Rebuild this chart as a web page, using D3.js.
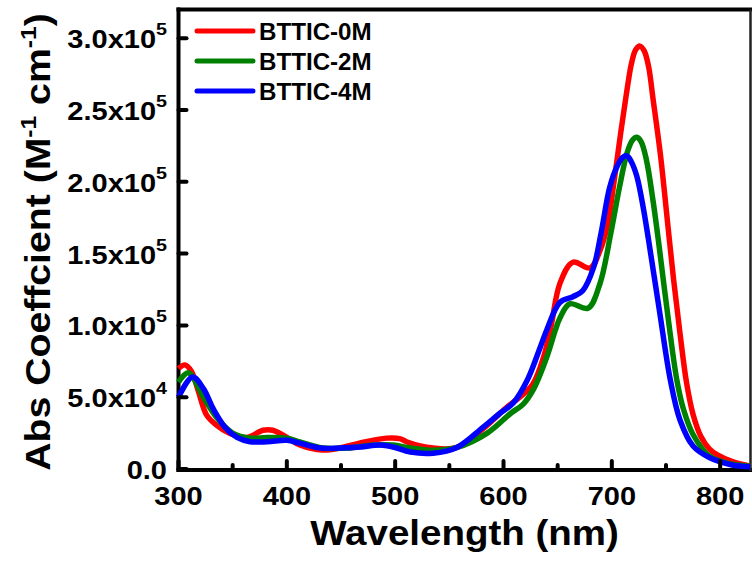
<!DOCTYPE html>
<html><head><meta charset="utf-8">
<script src="https://cdn.jsdelivr.net/npm/d3@7"></script>
<style>
body{margin:0;background:#fff}
svg{display:block}
text{font-family:"Liberation Sans",Arial,sans-serif;font-weight:bold;fill:#000}
</style>
</head><body>
<svg id="chart" width="752" height="561"></svg>
<script>
// ---- data (absorption coefficient in units of 1e4 M^-1 cm^-1) ----
const UNIT = 1e4;
const seriesNames = ["BTTIC-0M", "BTTIC-2M", "BTTIC-4M"];
const seriesColors = ["#ff0000", "#008000", "#0000ff"];

const wl0M  = [300,306,312,318,326,335,347,363,378,387,400,412,433,449,467,492,505,511,535,557,581,603,615,627,637,644,652,664,680,689,696,702,708,714,718,722,726,730,734,738,745,751,757,763,769,775,782,790,797,812,828];
const abs0M = [7.0,7.25,6.8,5.5,3.75,3.06,2.5,2.2,2.7,2.7,2.2,1.67,1.32,1.46,1.8,2.15,2.1,1.88,1.46,1.5,2.8,4.3,5.0,5.9,7.8,10.0,12.9,14.4,14.0,15.2,17.0,20.0,23.3,26.4,28.2,29.2,29.45,29.1,28.0,25.8,21.8,17.5,13.2,9.4,6.0,3.8,2.3,1.4,1.0,0.5,0.2];

const wl2M  = [300,309,323,335,350,366,382,400,412,433,456,480,498,514,535,557,585,607,618,628,640,648,652,661,678,689,699,707,714,719,723,727,732,738,743,752,760,766,775,790,810,828];
const abs2M = [6.05,6.7,5.0,3.6,2.5,2.15,2.2,2.15,1.88,1.46,1.46,1.67,1.67,1.46,1.3,1.5,2.5,3.9,4.5,5.6,7.8,9.7,10.5,11.5,11.2,12.9,16.4,19.6,22.0,22.9,23.1,22.8,21.5,18.7,15.9,10.5,6.2,4.2,2.4,0.9,0.35,0.2];

const wl4M  = [300,313,323,332,343,354,366,382,400,412,431,449,468,486,498,514,535,557,581,597,609,622,634,640,652,664,673,683,690,698,705,710,714,718,723,729,734,744,754,763,775,790,810,828];
const abs4M = [5.0,6.4,5.6,4.2,2.9,2.2,1.9,1.9,2.0,1.8,1.46,1.46,1.53,1.67,1.53,1.18,1.1,1.5,2.9,3.9,4.6,6.2,8.5,9.7,11.6,12.0,12.4,14.0,16.4,19.6,21.1,21.7,21.8,21.4,20.4,18.2,15.9,11.0,6.2,3.4,1.6,0.8,0.3,0.15];

const xTicks = [300, 400, 500, 600, 700, 800];
const xMinorTicks = [350, 450, 550, 650, 750];
const yTicks = [0, 5e4, 1e5, 1.5e5, 2e5, 2.5e5, 3e5];
const yTickMantissa = ["0.0", "5.0x10", "1.0x10", "1.5x10", "2.0x10", "2.5x10", "3.0x10"];
const yTickExponent = ["", "4", "5", "5", "5", "5", "5"];
const xTitle = "Wavelength (nm)";

// ---- layout ----
const svg = d3.select("#chart");
const L = 178.5, R = 750.5, T = 9.5, B = 469;
const x = d3.scaleLinear().domain([300, 828]).range([L, R]);
const y = d3.scaleLinear().domain([0, 3.2e5]).range([B, T]);

const series = [
  {name: seriesNames[0], color: seriesColors[0], wl: wl0M, a: abs0M},
  {name: seriesNames[1], color: seriesColors[1], wl: wl2M, a: abs2M},
  {name: seriesNames[2], color: seriesColors[2], wl: wl4M, a: abs4M}
];

// frame
svg.append("line").attr("x1", L).attr("x2", L).attr("y1", T - 2).attr("y2", B + 3)
  .attr("stroke", "#000").attr("stroke-width", 4);
svg.append("line").attr("x1", L - 2).attr("x2", 752).attr("y1", B + 1).attr("y2", B + 1)
  .attr("stroke", "#000").attr("stroke-width", 4);
svg.append("line").attr("x1", L - 2).attr("x2", 752).attr("y1", T).attr("y2", T)
  .attr("stroke", "#000").attr("stroke-width", 4);
svg.append("line").attr("x1", R).attr("x2", R).attr("y1", T).attr("y2", B + 2)
  .attr("stroke", "#222").attr("stroke-width", 2.5);

// curves
const line = d3.line().x(d => x(d[0])).y(d => y(d[1] * UNIT)).curve(d3.curveCatmullRom.alpha(0.5));
svg.append("clipPath").attr("id", "clip").append("rect")
  .attr("x", L - 4).attr("y", 0).attr("width", R - L + 4).attr("height", B + 4);
const curves = svg.append("g").attr("clip-path", "url(#clip)");
series.forEach(s => {
  curves.append("path")
    .datum(s.wl.map((w, i) => [w, s.a[i]]))
    .attr("d", line)
    .attr("fill", "none")
    .attr("stroke", s.color)
    .attr("stroke-width", 5.5)
    .attr("stroke-linejoin", "round");
});

// x ticks
const gx = svg.append("g");
xTicks.forEach(t => {
  gx.append("line").attr("x1", x(t)).attr("x2", x(t)).attr("y1", B).attr("y2", B - 8)
    .attr("stroke", "#000").attr("stroke-width", 4).attr("stroke-linecap", "round");
  gx.append("g").attr("transform", `translate(${x(t)},${505}) scale(1.16,1)`)
    .append("text").attr("text-anchor", "middle").attr("font-size", 25).text(t);
});
xMinorTicks.forEach(t => {
  gx.append("line").attr("x1", x(t)).attr("x2", x(t)).attr("y1", B).attr("y2", B - 4)
    .attr("stroke", "#000").attr("stroke-width", 4).attr("stroke-linecap", "round");
});

// y ticks
const gy = svg.append("g");
yTicks.forEach((t, i) => {
  gy.append("line").attr("x1", L).attr("x2", L + 8).attr("y1", y(t)).attr("y2", y(t))
    .attr("stroke", "#000").attr("stroke-width", 4).attr("stroke-linecap", "round");
  const txt = gy.append("g").attr("transform", `translate(167,${y(t) + 10}) scale(1.16,1)`)
    .append("text").attr("text-anchor", "end").attr("font-size", 25);
  txt.append("tspan").text(yTickMantissa[i]);
  if (yTickExponent[i]) {
    txt.append("tspan").attr("dy", -13).attr("font-size", 17).text(yTickExponent[i]);
  }
});

// axis titles
svg.append("g").attr("transform", `translate(${(L + R) / 2},545) scale(1.1,1)`)
  .append("text").attr("text-anchor", "middle").attr("font-size", 35).text(xTitle);

const yt = svg.append("g").attr("transform", "translate(50,242) rotate(-90) scale(1.12,1)")
  .append("text").attr("text-anchor", "middle").attr("font-size", 35);
yt.append("tspan").text("Abs Coeffcient (M");
yt.append("tspan").attr("dy", -14).attr("font-size", 22).text("-1");
yt.append("tspan").attr("dy", 14).text(" cm");
yt.append("tspan").attr("dy", -14).attr("font-size", 22).text("-1");
yt.append("tspan").attr("dy", 14).text(")");

// legend
const lg = svg.append("g");
series.forEach((s, i) => {
  const ly = 31 + i * 30;
  lg.append("line").attr("x1", 197).attr("x2", 253).attr("y1", ly).attr("y2", ly)
    .attr("stroke", s.color).attr("stroke-width", 5).attr("stroke-linecap", "round");
  lg.append("g").attr("transform", `translate(259,${ly + 9}) scale(1.05,1)`)
    .append("text").attr("font-size", 23).text(s.name);
});
</script>
</body></html>
